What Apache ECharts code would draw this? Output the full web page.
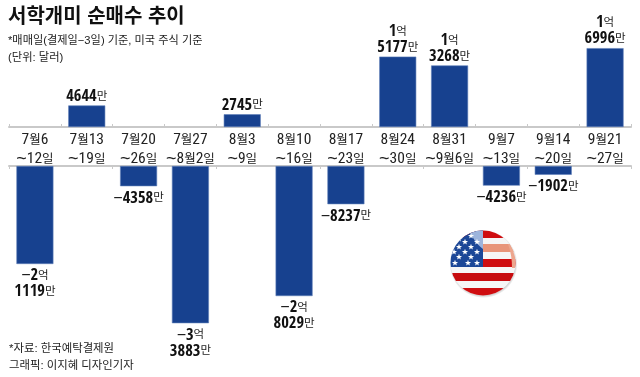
<!DOCTYPE html>
<html><head><meta charset="utf-8">
<style>html,body{margin:0;padding:0;background:#fff}#c{width:640px;height:377px}</style>
<script src="https://cdn.jsdelivr.net/npm/echarts@6/dist/echarts.min.js"></script>
</head><body><div id="c"></div>
<script>
const categories = ['7월6\n~12일','7월13\n~19일','7월20\n~26일','7월27\n~8월2일','8월3\n~9일','8월10\n~16일','8월17\n~23일','8월24\n~30일','8월31\n~9월6일','9월7\n~13일','9월14\n~20일','9월21\n~27일'];
// 단위: 만 달러
const values = [-21119,4644,-4358,-33883,2745,-28029,-8237,15177,13268,-4236,-1902,16996];
const FONT = '"Liberation Sans","Noto Sans CJK KR",sans-serif';
const NARROW = '"Open Sans Condensed","Liberation Sans",sans-serif';
const COND = '"Roboto Condensed","Liberation Sans",sans-serif';
const BLUE = '#17418f';
const AXIS = '#c9c9c9';
const starPts = [[5,33],[18,33],[27,33],[9,27],[21,27],[4,22],[15,22],[27,22],[9,17],[21,17],[15,12],[27,12],[21,6],[9,9]];
function star(cx,cy,r){let s='';for(let i=0;i<10;i++){const a=-Math.PI/2+i*Math.PI/5,q=i%2?r*0.42:r;s+=(cx+q*Math.cos(a)).toFixed(2)+','+(cy+q*Math.sin(a)).toFixed(2)+' ';}return s;}
const flagSvg = `<svg xmlns="http://www.w3.org/2000/svg" width="68" height="68" viewBox="0 0 68 68"><defs><clipPath id="k"><circle cx="33" cy="33" r="32.5"/></clipPath><radialGradient id="s"><stop offset="0.9" stop-color="#777" stop-opacity="0.5"/><stop offset="1" stop-color="#777" stop-opacity="0"/></radialGradient></defs><circle cx="33.5" cy="34" r="34" fill="url(#s)"/><g clip-path="url(#k)"><rect width="68" height="68" fill="#f6f6f6"/><rect y="0" width="68" height="8" fill="#cf0d10"/><rect x="33" y="14" width="35" height="8" fill="#e8957a"/><rect x="33" y="29" width="35" height="8" fill="#cf0d10"/><rect y="43" width="68" height="8" fill="#c70c0f"/><rect y="58" width="68" height="8" fill="#cf0d10"/><path d="M58 14h10v24h-6C62 30 61 22 58 14z" fill="#eda68e"/><rect x="0" y="0" width="33" height="37" fill="#1c4797"/><path d="M19 0h14v19C27 15 22 7 19 0z" fill="#9db4dc"/>${starPts.map(p=>`<polygon points="${star(p[0],p[1],3.2)}" fill="#fff"/>`).join('')}</g></svg>`;
const chart = echarts.init(document.getElementById('c'), null, {renderer:'canvas'});
function lab(v){
  const a = Math.abs(v), eok = Math.floor(a/10000), man = a%10000, s = v<0?'−':'';
  if(eok>0) return `{n|${s}}{b|${eok}}{u|억}\n{b|${man}}{u|만}`;
  return `{n|${s}}{b|${man}}{u|만}`;
}
const rich = {
  b:{fontFamily:NARROW,fontSize:16.5,fontWeight:'bold',color:'#111',lineHeight:16},
  u:{fontFamily:FONT,fontSize:11.5,color:'#222',lineHeight:16},
  n:{fontFamily:FONT,fontSize:16,color:'#111',lineHeight:16}
};
function catLabel(v){
  return v.split('\n').map(line=>line.split(/(\d+|~)/).filter(Boolean).map(t=>
    t==='~'?`{t|~}`:/\d/.test(t)?`{d|${t}}`:`{k|${t}}`).join('')).join('\n');
}
const catRich = {
  d:{fontFamily:COND,fontSize:15.5,color:'#222',lineHeight:19},
  k:{fontFamily:FONT,fontSize:12.5,color:'#222',lineHeight:19},
  t:{fontFamily:FONT,fontSize:18,color:'#222',lineHeight:19}
};
const axisCommon = {
  type:'category', data:categories,
  axisLine:{lineStyle:{color:AXIS,width:2}},
  axisTick:{show:true,length:3,inside:true,lineStyle:{color:AXIS,width:1}}
};
chart.setOption({
  animation:false, backgroundColor:'#fff',
  textStyle:{fontFamily:FONT},
  grid:[
    {left:9,width:622,top:11,height:116},
    {left:9,width:622,top:166,height:174}
  ],
  xAxis:[
    Object.assign({},axisCommon,{gridIndex:0,position:'bottom',
      axisLabel:{interval:0,margin:4,formatter:catLabel,rich:catRich,hideOverlap:false}}),
    Object.assign({},axisCommon,{gridIndex:1,position:'top',axisLabel:{show:false}})
  ],
  yAxis:[
    {gridIndex:0,type:'value',min:0,max:25000,show:false},
    {gridIndex:1,type:'value',min:-37500,max:0,show:false}
  ],
  series:[
    {type:'bar',xAxisIndex:0,yAxisIndex:0,barWidth:37,
     data:values.map(v=>v>0?v:null),
     itemStyle:{color:BLUE,borderColor:'#5f7fb8',borderWidth:0.6},
     label:{show:true,position:'top',distance:1,align:'center',formatter:p=>lab(p.value),rich}},
    {type:'bar',xAxisIndex:1,yAxisIndex:1,barWidth:37,
     data:values.map(v=>v<0?v:null),
     itemStyle:{color:BLUE,borderColor:'#5f7fb8',borderWidth:0.6},
     label:{show:true,position:'bottom',distance:4,align:'center',formatter:p=>lab(p.value),rich}}
  ],
  graphic:[
    {type:'text',left:8,top:7,style:{text:'서학개미 순매수 추이',font:'bold 20px '+FONT,fill:'#111'}},
    {type:'text',left:8,top:35,style:{text:'*매매일(결제일−3일) 기준, 미국 주식 기준',font:'11.2px '+FONT,fill:'#222'}},
    {type:'text',left:8,top:52,style:{text:'(단위: 달러)',font:'11.3px '+FONT,fill:'#222'}},
    {type:'text',left:9,top:343,style:{text:'*자료: 한국예탁결제원',font:'11.4px '+FONT,fill:'#222'}},
    {type:'text',left:9,top:360,style:{text:'그래픽: 이지혜 디자인기자',font:'11.4px '+FONT,fill:'#222'}},
    {type:'image',left:450,top:230,style:{image:'data:image/svg+xml;charset=utf-8,'+encodeURIComponent(flagSvg),width:68,height:68}}
  ]
});
</script></body></html>
